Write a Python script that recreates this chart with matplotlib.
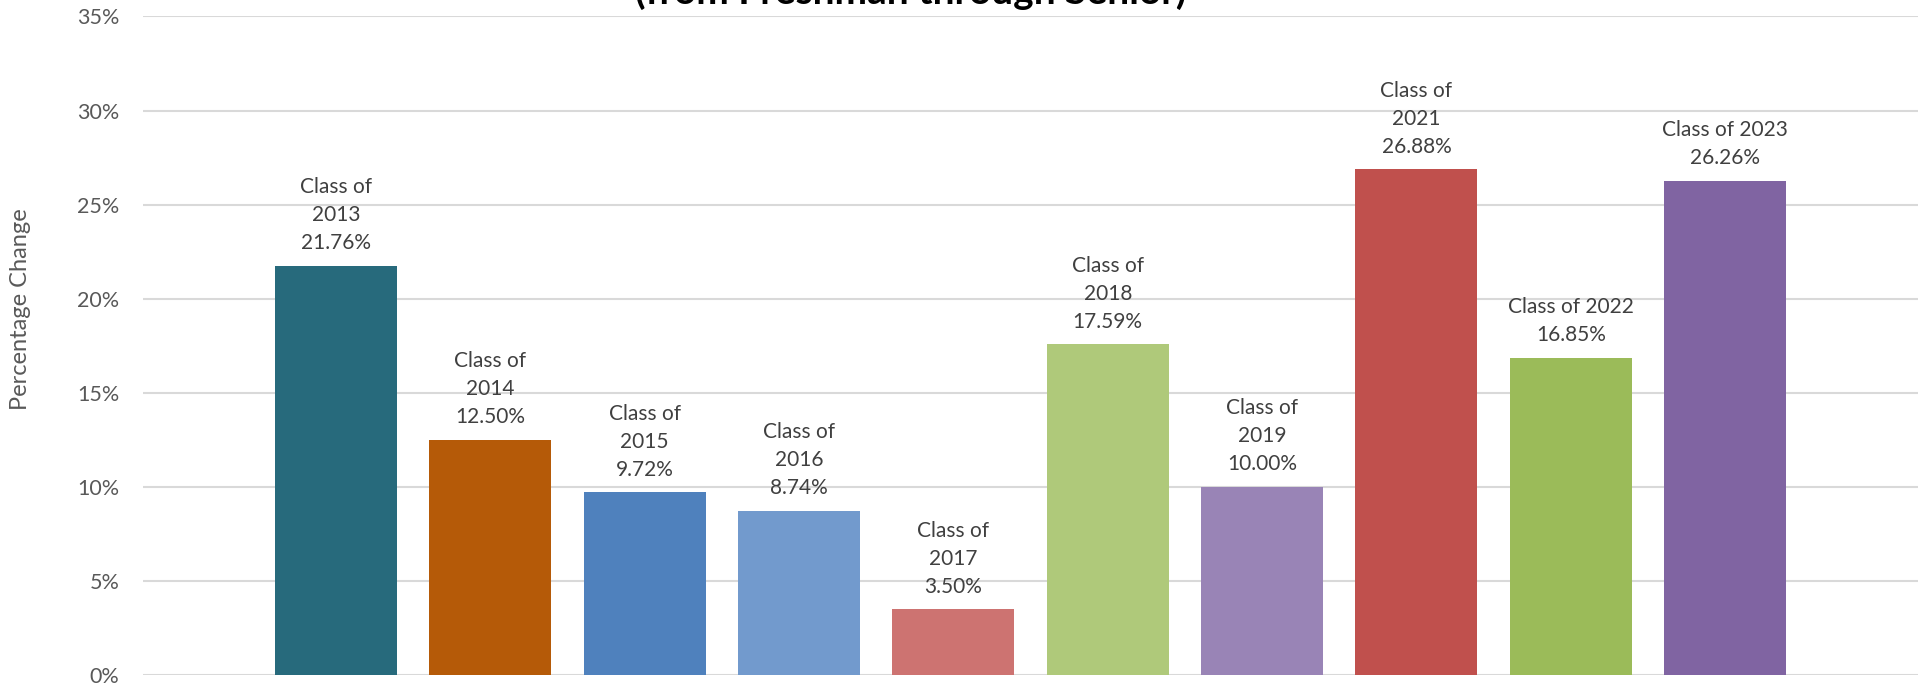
import matplotlib.pyplot as plt
from matplotlib.ticker import FuncFormatter

# data
labels = ["Class of\n2013", "Class of\n2014", "Class of\n2015", "Class of\n2016",
          "Class of\n2017", "Class of\n2018", "Class of\n2019", "Class of\n2021",
          "Class of 2022", "Class of 2023"]
values = [21.76, 12.50, 9.72, 8.74, 3.50, 17.59, 10.00, 26.88, 16.85, 26.26]
colors = ["#276A7C", "#B55A08", "#4F81BD", "#729ACD", "#CD7371",
          "#AFC97A", "#9984B6", "#C0504D", "#9BBB59", "#8064A2"]
yticks = [0, 5, 10, 15, 20, 25, 30, 35]
title = "(from Freshman through Senior)"

plt.rcParams['font.family'] = ['Lato', 'DejaVu Sans']

fig = plt.figure(figsize=(19.3, 6.98), dpi=100)
ax = fig.add_axes([0.0741, 0.033, 0.9197, 0.9434])

x = list(range(len(values)))
ax.bar(x, values, width=0.79, color=colors, zorder=3)

for xi, v, lab in zip(x, values, labels):
    ax.annotate(lab + "\n" + "%.2f%%" % v, (xi, v), xytext=(0, 9),
                textcoords='offset points', ha='center', va='bottom',
                fontsize=15, color='#404040', linespacing=1.5)

ax.set_xlim(-1.25, len(values) - 1 + 1.25)
ax.set_ylim(0, 35)
ax.set_yticks(yticks)
ax.yaxis.set_major_formatter(FuncFormatter(lambda v, p: "%d%%" % v))
ax.set_xticks([])
ax.tick_params(axis='y', length=0, pad=17, labelsize=15.5, labelcolor='#595959')
ax.grid(axis='y', color='#D9D9D9', linewidth=1.5, zorder=0)
for s in ax.spines.values():
    s.set_visible(False)

ax.set_ylabel("Percentage Change", fontsize=17, color='#595959')
ax.yaxis.set_label_coords(-0.063, 0.555)

fig.text(0.472, 1 - 4 / 698, title, ha='center', va='baseline',
         fontsize=28, fontweight='bold', color='black')

fig.savefig("out.png", dpi=100)
